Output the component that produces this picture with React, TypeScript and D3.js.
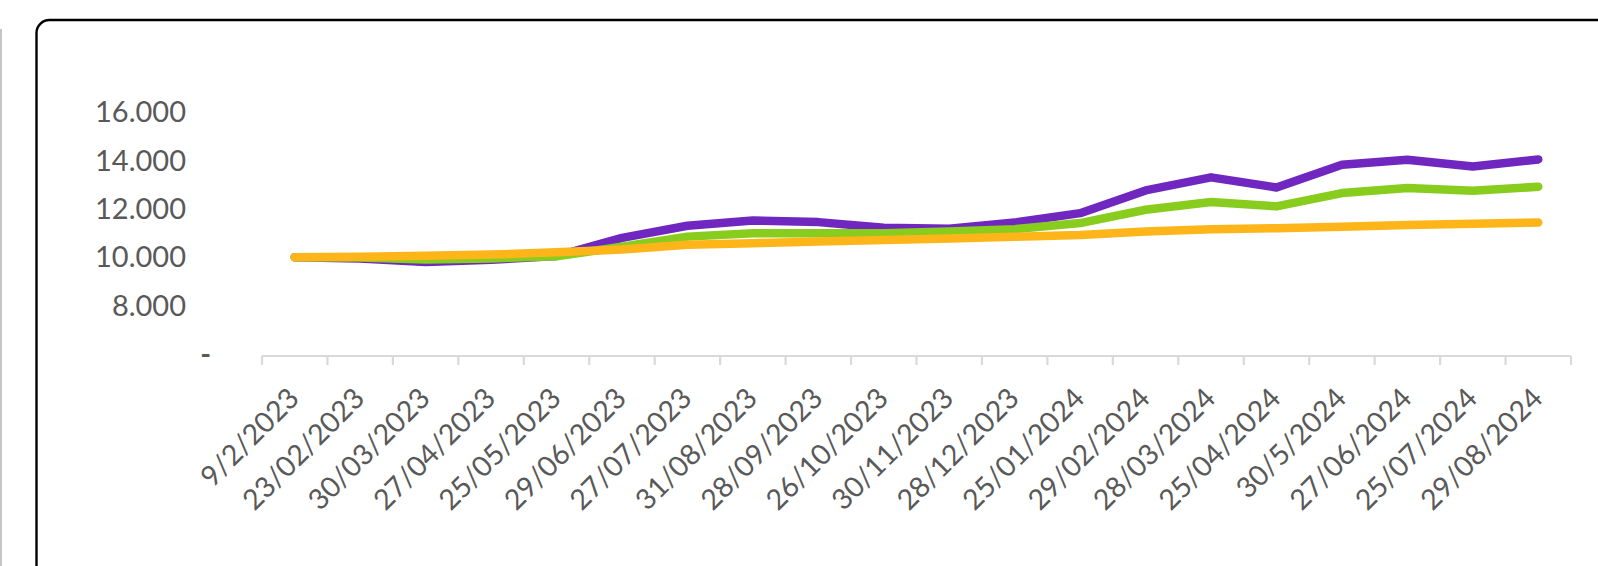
import React, { useRef, useEffect } from "react";
import * as d3 from "d3";

const categories = [
  "9/2/2023", "23/02/2023", "30/03/2023", "27/04/2023", "25/05/2023",
  "29/06/2023", "27/07/2023", "31/08/2023", "28/09/2023", "26/10/2023",
  "30/11/2023", "28/12/2023", "25/01/2024", "29/02/2024", "28/03/2024",
  "25/04/2024", "30/5/2024", "27/06/2024", "25/07/2024", "29/08/2024",
];

const purpleValues = [
  10000, 9950, 9800, 9890, 10050, 10800, 11300, 11520, 11450, 11220,
  11180, 11430, 11820, 12760, 13300, 12880, 13820, 14030, 13750, 14040,
];
const greenValues = [
  10000, 9990, 9910, 9950, 10040, 10430, 10850, 10990, 10990, 10990,
  11060, 11160, 11410, 11960, 12280, 12100, 12650, 12860, 12750, 12910,
];
const yellowValues = [
  10000, 10020, 10060, 10110, 10200, 10320, 10510, 10580, 10650, 10710,
  10770, 10840, 10920, 11060, 11160, 11200, 11260, 11330, 11380, 11430,
];

const yTicks = [6000, 8000, 10000, 12000, 14000, 16000];
const yTickLabels = ["-", "8.000", "10.000", "12.000", "14.000", "16.000"];

const seriesList = [
  { name: "purple", values: purpleValues, color: "#6f27c0" },
  { name: "green", values: greenValues, color: "#88cc1e" },
  { name: "yellow", values: yellowValues, color: "#fdb51a" },
];

const W = 1598;
const H = 566;
const textColor = "#595959";
const font = "Lato, 'Open Sans', sans-serif";

const App = () => {
  const canvas = useRef<SVGSVGElement>(null);

  useEffect(() => {
    const svg = d3.select(canvas.current);
    svg.selectAll("*").remove();

    // frame
    svg.append("line")
      .attr("x1", 1).attr("x2", 1).attr("y1", 29).attr("y2", H)
      .style("stroke", "#b3b3b3").style("stroke-width", 1.5);
    svg.append("rect")
      .attr("x", 36.5).attr("y", 20).attr("width", 1700).attr("height", 700)
      .attr("rx", 13)
      .style("fill", "white").style("stroke", "#000").style("stroke-width", 2.4);

    const xScale = d3.scaleBand<string>().domain(categories).range([262, 1571]);
    const yScale = d3.scaleLinear().domain([6000, 16000]).range([354, 112]);
    const axisY = 356;

    // y labels
    svg.append("g").selectAll("text")
      .data(yTicks)
      .enter().append("text")
      .attr("x", (d, i) => (yTickLabels[i] === "-" ? 211 : 186))
      .attr("y", d => yScale(d))
      .attr("dy", "0.35em")
      .attr("text-anchor", "end")
      .style("font-family", font).style("font-size", "29px").style("fill", textColor)
      .style("font-weight", (d, i) => (yTickLabels[i] === "-" ? "bold" : "normal"))
      .text((d, i) => yTickLabels[i]);

    // x axis
    svg.append("line")
      .attr("x1", 262).attr("x2", 1571).attr("y1", axisY).attr("y2", axisY)
      .style("stroke", "#d9d9d9").style("stroke-width", 2.2);
    const bounds = categories.map(c => xScale(c) as number).concat([1571]);
    svg.append("g").selectAll("line")
      .data(bounds)
      .enter().append("line")
      .attr("x1", d => d).attr("x2", d => d)
      .attr("y1", axisY).attr("y2", axisY + 9)
      .style("stroke", "#d9d9d9").style("stroke-width", 2.2);

    svg.append("g").selectAll("text")
      .data(categories)
      .enter().append("text")
      .attr("transform", d => "translate(" + ((xScale(d) as number) + xScale.bandwidth() / 2 - 1) + "," + 393 + ") rotate(-45)")
      .attr("dy", "0.35em")
      .attr("text-anchor", "end")
      .style("font-family", font).style("font-size", "28.5px").style("fill", textColor)
      .text(d => d);

    const line = d3.line<number>()
      .x((d, i) => (xScale(categories[i]) as number) + xScale.bandwidth() / 2)
      .y(d => yScale(d));

    seriesList.forEach(s => {
      svg.append("path")
        .datum(s.values)
        .style("stroke", s.color)
        .style("stroke-width", 8.5)
        .style("stroke-linecap", "round")
        .style("stroke-linejoin", "round")
        .style("fill", "none")
        .attr("d", line);
    });
  });

  return (
    <svg ref={canvas} width={W} height={H}
      style={{ position: "absolute", left: 0, top: 0, background: "white" }} />
  );
};

export default App;
